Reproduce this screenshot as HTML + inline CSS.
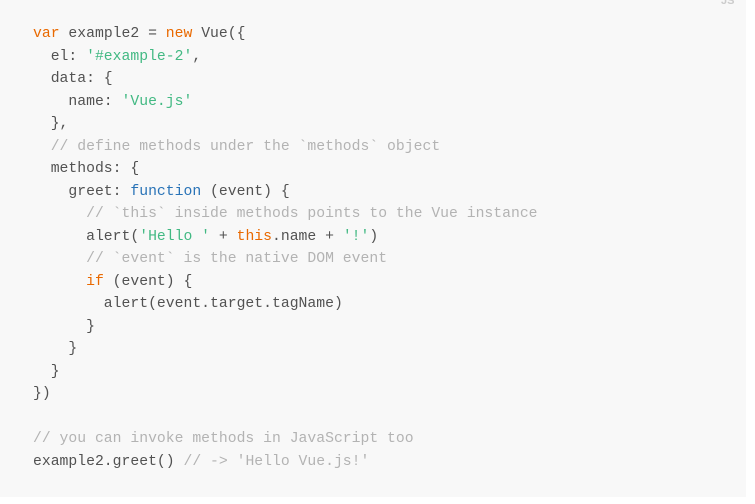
<!DOCTYPE html>
<html><head><style>
html,body{margin:0;padding:0;background:#fff;width:755px;height:504px;overflow:hidden}
.box{position:absolute;left:0;top:0;width:746px;height:497px;background:#f8f8f8}
.js{position:absolute;left:721px;top:-5px;font:600 11px "Liberation Sans",sans-serif;color:#ccc}
pre{position:absolute;left:33px;top:23px;margin:0;font-family:"Liberation Mono",monospace;font-size:14.75px;line-height:22.5px;color:#525252}
.k{color:#e96900}.s{color:#42b983}.c{color:#b3b3b3}.f{color:#2973b7}
</style></head><body>
<div class="box"></div><div class="js">JS</div>
<pre><span class="k">var</span> example2 = <span class="k">new</span> Vue({
  el: <span class="s">'#example-2'</span>,
  data: {
    name: <span class="s">'Vue.js'</span>
  },
  <span class="c">// define methods under the `methods` object</span>
  methods: {
    greet: <span class="f">function</span> (event) {
      <span class="c">// `this` inside methods points to the Vue instance</span>
      alert(<span class="s">'Hello '</span> + <span class="k">this</span>.name + <span class="s">'!'</span>)
      <span class="c">// `event` is the native DOM event</span>
      <span class="k">if</span> (event) {
        alert(event.target.tagName)
      }
    }
  }
})

<span class="c">// you can invoke methods in JavaScript too</span>
example2.greet() <span class="c">// -&gt; 'Hello Vue.js!'</span></pre>
</body></html>
